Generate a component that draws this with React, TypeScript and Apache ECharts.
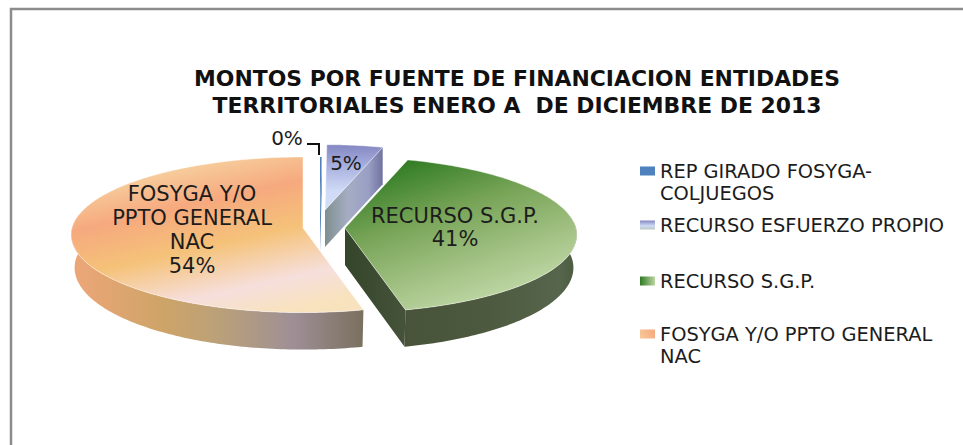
import React, { useEffect, useRef } from "react";
import * as echarts from "echarts";

const titleLines = [
  "MONTOS POR FUENTE DE FINANCIACION ENTIDADES",
  "TERRITORIALES ENERO A  DE DICIEMBRE DE 2013",
];
const sliceNames = [
  "REP GIRADO FOSYGA-COLJUEGOS",
  "RECURSO ESFUERZO PROPIO",
  "RECURSO S.G.P.",
  "FOSYGA Y/O PPTO GENERAL NAC",
];
const sliceValues = [0.15, 4.6, 41.4, 53.85];
const legendTexts = [
  "REP GIRADO FOSYGA-\nCOLJUEGOS",
  "RECURSO ESFUERZO PROPIO",
  "RECURSO S.G.P.",
  "FOSYGA Y/O PPTO GENERAL\nNAC",
];
const labelNames = ["", "", "RECURSO S.G.P.", "FOSYGA Y/O\nPPTO GENERAL\nNAC"];

const FONT = "'DejaVu Sans', sans-serif";
const TEXT = "#1c1c1c";

const grad = (x: number, y: number, x2: number, y2: number, stops: [number, string][]) => ({
  type: "linear",
  x,
  y,
  x2,
  y2,
  colorStops: stops.map(([offset, color]) => ({ offset, color })),
});

// Projection of the tilted pie, and how each wedge is pulled out of it.
const RX = 231;
const RY = 77.2;
const PERSPECTIVE = 0.087;
const DEPTH = 37;
const looks = [
  {
    cx: 320, cy: 216, scale: 0.83,
    top: "#4f81bd", wall: "#4f81bd", cut: "#4f81bd", legend: "#4f81bd",
    labelX: 287, labelY: 138, labelSize: 20,
  },
  {
    cx: 325, cy: 210, scale: 0.92,
    top: grad(0, 0, 0, 1, [[0, "#8487c2"], [0.35, "#aab3e0"], [0.7, "#cfdaf6"], [1, "#d3def8"]]),
    wall: "#7f82b0",
    cut: grad(0, 0, 1, 0, [[0, "#7f8f8e"], [0.4, "#a5adc4"], [0.75, "#9a9fc4"], [1, "#70739f"]]),
    legend: grad(0, 0, 0, 1, [[0, "#8487c2"], [0.6, "#cfdaf6"], [1, "#b8c8c0"]]),
    labelX: 346, labelY: 163, labelSize: 20,
  },
  {
    cx: 345, cy: 228, scale: 1,
    top: grad(0.1, 0, 0.62, 1, [[0, "#227419"], [0.4, "#76a356"], [0.75, "#a6c488"], [1, "#c3dbaa"]]),
    wall: grad(0, 0, 1, 0, [[0, "#48533a"], [0.5, "#4d5a3f"], [0.9, "#56664c"], [1, "#4a5a3e"]]),
    cut: grad(0, 0, 1, 0, [[0, "#33452a"], [1, "#46533a"]]),
    legend: grad(0, 0, 1, 0, [[0, "#2f7a24"], [1, "#bcd5a2"]]),
    labelX: 455, labelY: 227, labelSize: 21,
  },
  {
    cx: 303, cy: 228, scale: 1,
    top: grad(0.3, 0, 0.72, 1, [
      [0, "#f7dba8"], [0.3, "#f6a97e"], [0.55, "#f5c279"], [0.82, "#f6dfdc"], [1, "#f8e2bd"],
    ]),
    wall: grad(0, 0, 1, 0, [
      [0, "#eea678"], [0.32, "#cda468"], [0.52, "#b9a07a"], [0.76, "#9e8f96"], [1, "#7a705e"],
    ]),
    cut: "#7a705e",
    legend: grad(0, 1, 1, 0, [[0, "#f9d9a6"], [1, "#f6a97e"]]),
    labelX: 192, labelY: 230, labelSize: 21,
  },
];

const total = sliceValues.reduce((a, b) => a + b, 0);
const percent = (v: number) => `${Math.round((v / total) * 100)}%`;

const project = (deg: number, cx: number, cy: number, scale: number) => {
  const a = (deg * Math.PI) / 180;
  const u = Math.sin(a);
  const v = Math.cos(a);
  const s = 1 / (1 + PERSPECTIVE * v);
  return [cx + RX * scale * u * s, cy - RY * scale * v * s];
};

const renderSlice = (index: number) => (_params: any, _api: any) => {
  const look = looks[index];
  const from = (sliceValues.slice(0, index).reduce((a, b) => a + b, 0) / total) * 360;
  const to = from + (sliceValues[index] / total) * 360;
  const { cx, cy, scale } = look;
  const at = (d: number) => project(d, cx, cy, scale);

  const arc: number[][] = [];
  const steps = Math.max(2, Math.ceil(to - from));
  for (let i = 0; i <= steps; i++) arc.push(at(from + ((to - from) * i) / steps));
  const apex = [cx, cy];
  // The base of the large wedges recedes a little: thinner and narrower at the sides.
  const down = (p: number[]) => {
    if (index < 2) return [p[0], p[1] + DEPTH];
    const front = Math.max(0, Math.min(1, (p[1] - cy) / 84));
    return [cx + (p[0] - cx) * 0.985, p[1] + DEPTH * (0.88 + 0.12 * front)];
  };
  const children: any[] = [];

  // outer rim wall: only the part that faces the viewer
  const wallArc: number[][] = [];
  const wFrom = Math.max(from, 85);
  const wTo = Math.min(to, 280);
  if (wTo > wFrom) {
    for (let d = wFrom; d < wTo; d += 1) wallArc.push(at(d));
    wallArc.push(at(wTo));
    children.push({
      type: "polygon",
      shape: { points: [...wallArc, ...wallArc.slice().reverse().map(down)] },
      style: { fill: look.wall },
    });
  }

  // straight cut face that faces the viewer
  if (index <= 2) {
    const cutEnd = at(to);
    children.push({
      type: "polygon",
      shape: { points: [apex, cutEnd, down(cutEnd), [cx, cy + DEPTH]] },
      style: { fill: look.cut },
    });
  }

  children.push({
    type: "polygon",
    shape: { points: [apex, ...arc] },
    style: { fill: look.top, stroke: "rgba(255,255,255,0.55)", lineWidth: index === 0 ? 0 : 0.8 },
  });

  if (index === 0) {
    const rim = at(from);
    children.push({
      type: "polyline",
      shape: {
        points: [
          [307, 144],
          [rim[0] - 1, 144],
          [rim[0] - 1, rim[1] - 2],
        ],
      },
      style: { fill: "none", stroke: "#111", lineWidth: 2 },
    });
  }
  const name = labelNames[index];
  children.push({
    type: "text",
    x: look.labelX,
    y: look.labelY,
    z2: 20,
    style: {
      text: (name ? name + "\n" : "") + percent(sliceValues[index]),
      font: `${look.labelSize}px ${FONT}`,
      fill: TEXT,
      align: "center",
      verticalAlign: "middle",
      lineHeight: name.includes("\n") ? 24 : 23,
    },
  });
  return { type: "group", children };
};

const legendTops = [160, 214, 270, 323];
// The marker sits beside the first line: two-line entries get a taller, mostly empty icon.
const twoLineIcon = "path://M0,0H15V9H0ZM0,31L0,31Z";

export default function App() {
  const ref = useRef<HTMLDivElement>(null);
  useEffect(() => {
    document.body.style.margin = "0";
    const chart = echarts.init(ref.current!, null, { renderer: "svg" });
    chart.setOption({
      animation: false,
      backgroundColor: "#ffffff",
      title: {
        text: titleLines.join("\n"),
        left: 512,
        top: 60,
        textAlign: "center",
        textStyle: {
          fontFamily: FONT,
          fontWeight: "bold",
          fontSize: 21.9,
          lineHeight: 27,
          color: "#111",
        },
      },
      legend: sliceNames.map((name, i) => {
        const two = legendTexts[i].includes("\n");
        return {
          data: [{ name, itemStyle: { color: looks[i].legend, borderWidth: 0 } }],
          left: 640,
          top: legendTops[i],
          orient: "vertical",
          itemWidth: 15,
          itemHeight: two ? 31 : 9,
          itemGap: 0,
          padding: 0,
          selectedMode: false,
          icon: two ? twoLineIcon : "rect",
          formatter: () => legendTexts[i],
          textStyle: {
            fontFamily: FONT,
            fontSize: 19.4,
            lineHeight: 22,
            color: TEXT,
          },
        };
      }),
      graphic: [
        {
          type: "polyline",
          shape: { points: [[11, 445], [11, 9], [963, 9]] },
          style: { fill: "none", stroke: "#8c8c8c", lineWidth: 2.5 },
        },
      ],
      series: sliceNames.map((name, i) => ({
        type: "custom",
        name,
        coordinateSystem: "none",
        silent: true,
        z: [1, 1, 3, 2][i],
        data: [sliceValues[i]],
        renderItem: renderSlice(i),
      })),
    });
    return () => chart.dispose();
  }, []);
  return <div ref={ref} style={{ width: 963, height: 445 }} />;
}
